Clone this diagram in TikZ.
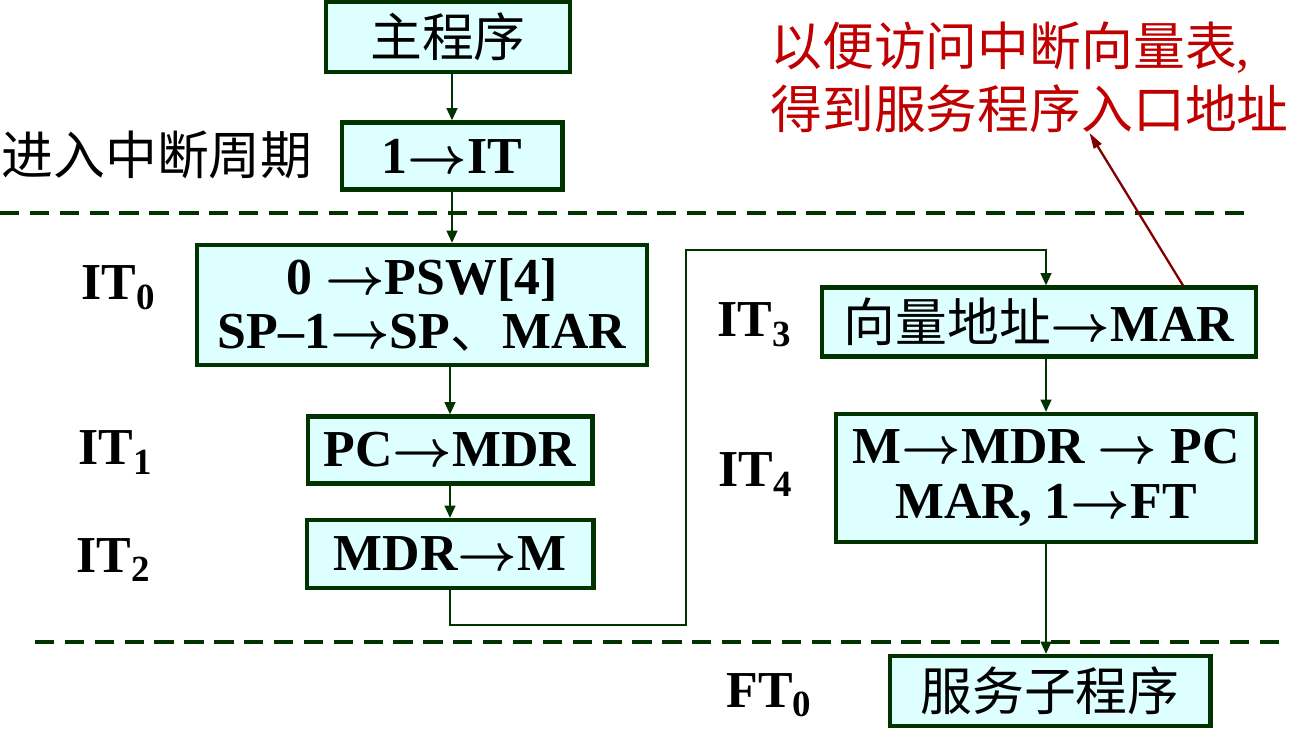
\documentclass[tikz,border=0pt]{standalone}
\usepackage{fix-cm}
\usepackage{fontspec}
\setmainfont{Liberation Serif}
\newfontfamily\cjk{Noto Sans CJK SC}
\usetikzlibrary{arrows.meta}
\usetikzlibrary{calc}

\definecolor{boxfill}{RGB}{221,255,255}
\definecolor{linegreen}{RGB}{0,51,0}
\definecolor{notered}{RGB}{192,0,0}
\definecolor{hintred}{RGB}{128,0,0}

\newcommand\zh[1]{{\cjk\mdseries #1}}
\newcommand\lowidx[1]{\raisebox{-0.4ex}{\fontsize{21}{21}\selectfont #1}}
\newcommand\goes{{\boldmath$\rightarrow$}}

\tikzset{
  stepbox/.style={draw=linegreen, line width=2.3pt, fill=boxfill, inner sep=0pt},
  flow/.style={draw=linegreen, line width=1.4pt, -{Triangle[length=7pt,width=6pt]}},
  cut/.style={draw=linegreen, line width=2.2pt, dash pattern=on 11pt off 6pt},
  phase/.style={anchor=base},
  hint/.style={draw=hintred, line width=1.3pt, -{Triangle[length=9pt,width=5pt]}},
  note/.style={text=notered, align=left, inner sep=0pt, font=\fontsize{29.5}{36}\selectfont},
}

\begin{document}
\begin{tikzpicture}[x=0.02cm, y=-0.02cm, font=\fontsize{29.5}{31}\selectfont\bfseries]
  \useasboundingbox (0,0) rectangle (1294,732);

  % cycle boundaries
  \draw[cut] (0,213) -- (1250,213);
  \draw[cut] (35,642) -- (1285,642);

  % steps
  \node[stepbox, minimum width=4.88cm, minimum height=1.40cm] (main) at (448,37) {\zh{主程序}};
  \node[stepbox, minimum width=4.42cm, minimum height=1.34cm] (setit) at (452,156) {1\goes IT};
  \node[stepbox, minimum width=9.00cm, minimum height=2.40cm, align=center] (itzero) at (422,305)
    {0 \goes PSW[4]\\SP\textendash1\goes SP\zh{、}MAR};
  \node[stepbox, minimum width=5.70cm, minimum height=1.34cm] (itone) at (450,450) {PC\goes MDR};
  \node[stepbox, minimum width=5.74cm, minimum height=1.36cm] (ittwo) at (450,554) {MDR\goes M};
  \node[stepbox, minimum width=8.68cm, minimum height=1.38cm] (itthree) at (1039,322) {\zh{向量地址}\goes MAR};
  \node[stepbox, minimum width=8.40cm, minimum height=2.56cm, align=center] (itfour) at (1046,478)
    {M\goes MDR \goes{} PC\\MAR, 1\goes FT};
  \node[stepbox, minimum width=6.42cm, minimum height=1.40cm] (service) at (1050,691) {\zh{服务子程序}};

  % phase labels
  \node (enter) at (157,155) {\zh{进入中断周期}};
  \node[phase] (lzero) at (118,300) {IT\lowidx{0}};
  \node[phase] (lone) at (115,465) {IT\lowidx{1}};
  \node[phase] (ltwo) at (113,572) {IT\lowidx{2}};
  \node[phase] (lthree) at (754,337) {IT\lowidx{3}};
  \node[phase] (lfour) at (755,487) {IT\lowidx{4}};
  \node[phase] (lft) at (769,707) {FT\lowidx{0}};

  \node[note, anchor=west] (note) at (770,77)
    {\zh{以便访问中断向量表},\\\zh{得到服务程序入口地址}};

  % flow
  \coordinate (lowturn) at (686,625);
  \coordinate (highturn) at (686,250);
  \draw[flow] (main.south -| setit) -- (setit);
  \draw[flow] (setit) -- (setit |- itzero.north);
  \draw[flow] (itzero.south -| itone) -- (itone);
  \draw[flow] (itone) -- (ittwo);
  \draw[flow] (ittwo.south) |- (lowturn) -- (highturn) -| (itthree.north -| itfour.north);
  \draw[flow] (itthree.south -| itfour) -- (itfour);
  \draw[flow] (itfour.south) -- (itfour.south |- service.north);
  \draw[hint] ($(itthree.north)+(144,0)$) -- ($(note.south)+(60,0)$);
\end{tikzpicture}
\end{document}
